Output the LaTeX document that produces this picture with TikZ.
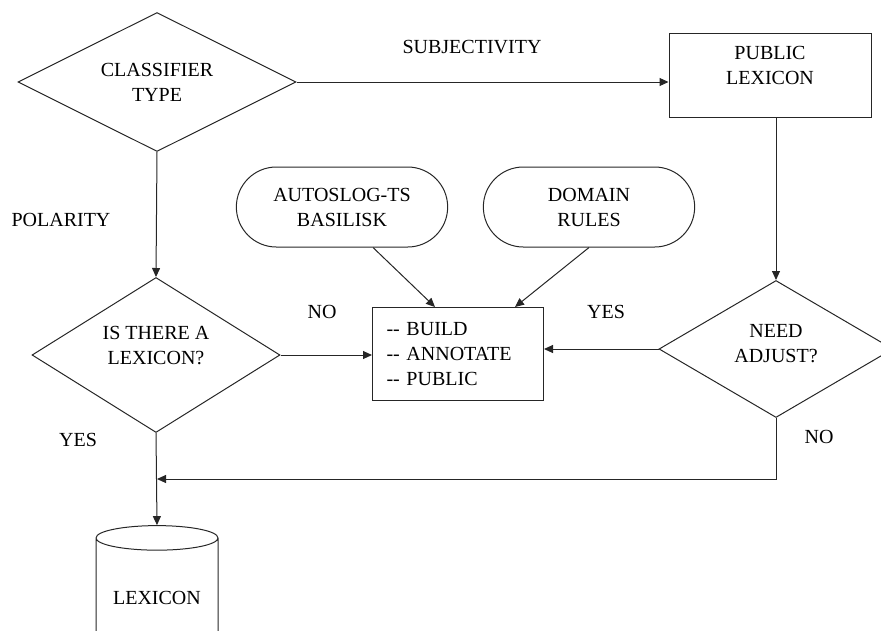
\documentclass[tikz,border=0pt]{standalone}
\usepackage{fontspec}
\setmainfont{Liberation Serif}
\usetikzlibrary{shapes.geometric,shapes.misc,arrows.meta}

\tikzset{
  lbl/.style={font=\fontsize{20}{25}\selectfont, inner sep=0pt},
  decision/.style={diamond, draw, align=center, inner sep=0pt, shape aspect=2},
  source/.style={rounded rectangle, draw, align=center, minimum width=218pt, minimum height=80pt},
  arr/.style={-{Triangle[length=9pt,width=8pt]}}
}

\begin{document}
\begin{tikzpicture}
  [x=1pt,y=-1pt,line width=1pt,draw=black!85,
   every node/.style={font=\fontsize{20}{25}\selectfont}]
  \useasboundingbox (0,0) rectangle (881,630);

  \node[decision, minimum width=278pt, minimum height=139pt] (type) at (157,82) {CLASSIFIER\\TYPE};
  \node[draw, align=center, minimum width=202pt, minimum height=84pt] (public) at (770,75) {PUBLIC\\LEXICON\\[-5pt]};
  \node[source] (auto) at (342,207) {AUTOSLOG-TS\\BASILISK};
  \node[source] (domain) at (589,207) {DOMAIN\\RULES};
  \node[decision, minimum width=248pt, minimum height=155pt] (haslex) at (156,355) {IS THERE A\\LEXICON?\\[-5pt]};
  \node[draw, align=left, text width=143pt, inner xsep=14pt, minimum height=93pt] (build) at (458,354) {-{}- BUILD\\-{}- ANNOTATE\\-{}- PUBLIC};
  \node[decision, minimum width=234pt, minimum height=137pt] (adjust) at (776,349) {NEED\\ADJUST?\\[-13pt]};
  \node[cylinder, shape border rotate=90, draw, minimum width=122pt, minimum height=128pt, aspect=0.26] (lexdb) at (157,598) {LEXICON};
  \coordinate (merge) at (157,479);

  % edge labels
  \node[lbl] (subj) at (472,47) {SUBJECTIVITY};
  \node[lbl] (pol) at (61,220) {POLARITY};
  \node[lbl] (no1) at (322,312) {NO};
  \node[lbl] (yes1) at (606,312) {YES};
  \node[lbl] (no2) at (819,437) {NO};
  \node[lbl] (yes2) at (78,440) {YES};

  \draw[arr] (type.east) -- (type.east -| public.west);
  \draw[arr] (type.south) -- (haslex.north);
  \draw[arr] (adjust.north |- public.south) -- (adjust.north);
  \draw[arr] ([xshift=31pt]auto.south) -- ([xshift=-23pt]build.north);
  \draw[arr] (domain.south) -- ([xshift=57pt]build.north);
  \draw[arr] (haslex.east) -- (haslex.east -| build.west);
  \draw[arr] (adjust.west) -- (adjust.west -| build.east);
  \draw[arr] (adjust.south) |- (merge);
  \draw[arr] (haslex.south) -- (lexdb.north);

\end{tikzpicture}
\end{document}
